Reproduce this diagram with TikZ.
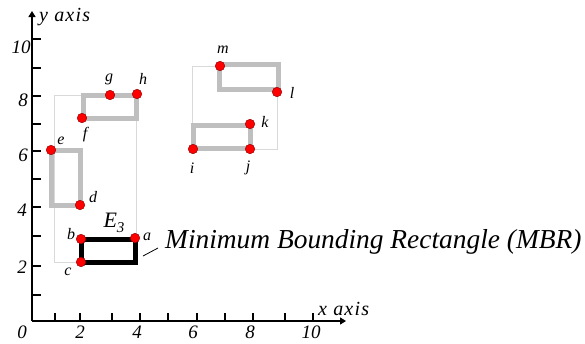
\documentclass[tikz,border=0pt]{standalone}
\usepackage{fontspec}
\setmainfont{Liberation Serif}
\usetikzlibrary{arrows.meta}
\begin{document}
\begin{tikzpicture}[x=1pt,y=-1pt,
 pt/.style={circle,fill=red,draw=red!60!black,line width=0.5pt,inner sep=0pt,minimum size=9.5pt},
 lbl/.style={font=\fontsize{16}{16}\selectfont\itshape,inner sep=0pt},
 ticklbl/.style={font=\fontsize{19}{19}\selectfont\itshape,inner sep=0pt},
 axlbl/.style={font=\fontsize{20}{20}\selectfont\itshape\addfontfeatures{LetterSpace=6},inner sep=0pt},
 gshape/.style={draw=black!25, line width=5pt, line join=miter},
 bshape/.style={draw=black, line width=5pt, line join=miter},
 mbr/.style={draw=black!15, line width=0.8pt},
 axis/.style={line width=1.3pt, -{Triangle[length=6pt,width=7pt]}},
 tick/.style={line width=1.2pt}
]
\useasboundingbox (0,0) rectangle (585,343);
% axes
\coordinate (O) at (32,321);
\coordinate (ytop) at (32,11);
\coordinate (xend) at (346,321);
\draw[axis] (O) -- (ytop);
\draw[axis] (O) -- (xend);
\foreach \x in {55,80,112,140,168,197,225,253,285,313} \draw[tick] (\x,321) -- (\x,313);
\foreach \y in {39,68,96,124,151,179,207,236,266,295} \draw[tick] (32,\y) -- (41,\y);
\node[axlbl,anchor=west] (ylab) at (39,17) {y axis};
\node[axlbl,anchor=west] (xlab) at (318,309) {x axis};
% tick labels
\node[ticklbl] (x0) at (22,332) {0};
\node[ticklbl] (x2) at (80,332) {2};
\node[ticklbl] (x4) at (137,332) {4};
\node[ticklbl] (x6) at (193,332) {6};
\node[ticklbl] (x8) at (250,332) {8};
\node[ticklbl] (x10) at (311,332) {10};
\node[ticklbl] (y10) at (21,47) {10};
\node[ticklbl] (y8) at (23,100) {8};
\node[ticklbl] (y6) at (23,155) {6};
\node[ticklbl] (y4) at (22,210) {4};
\node[ticklbl] (y2) at (22,267) {2};
% thin bounding rectangles
\draw[mbr] (54,95) rectangle (136,262);
\draw[mbr] (192,66) rectangle (277,149);
% gray shapes
\draw[gshape] (51,150) rectangle (80,205);
\draw[gshape] (83,95) rectangle (136,118);
\draw[gshape] (193.5,125.5) rectangle (250.5,148.5);
\draw[gshape] (219.5,64.5) rectangle (278,89.5);
% black MBR
\draw[bshape] (81,239.5) rectangle (135,262.5);
% points
\node[pt] (a) at (135,238) {};
\node[pt] (b) at (81,239) {};
\node[pt] (c) at (81,262) {};
\node[pt] (d) at (80,205) {};
\node[pt] (e) at (51,150) {};
\node[pt] (f) at (82,118) {};
\node[pt] (g) at (110,95) {};
\node[pt] (h) at (137,94) {};
\node[pt] (i) at (193,149) {};
\node[pt] (j) at (250,149) {};
\node[pt] (k) at (250,124) {};
\node[pt] (l) at (277,92) {};
\node[pt] (m) at (220,66) {};
% point labels
\node[lbl] (la) at (147,237) {a};
\node[lbl] (lb) at (71,234) {b};
\node[lbl] (lc) at (68,272) {c};
\node[lbl] (ld) at (93,197) {d};
\node[lbl] (le) at (61,141) {e};
\node[lbl] (lf) at (85,135) {f};
\node[lbl] (lg) at (109,79) {g};
\node[lbl] (lh) at (143,79) {h};
\node[lbl] (li) at (192,168) {i};
\node[lbl] (lj) at (248,168) {j};
\node[lbl] (lk) at (265,122) {k};
\node[lbl] (ll) at (292,93) {l};
\node[lbl] (lm) at (223,50) {m};
% E3
\node[inner sep=0pt,font=\fontsize{22}{22}\selectfont\itshape] (E3) at (114,223) {E\raisebox{-5pt}{\fontsize{15}{15}\selectfont 3}};
% MBR label
\node[inner sep=0pt,anchor=west,font=\fontsize{27.4}{27.4}\selectfont\itshape] (mbrlab) at (165,242) {Minimum Bounding Rectangle (MBR)};
\coordinate (ld1) at (143,256);
\coordinate (ld2) at (158,248);
\draw[line width=0.8pt] (ld1) -- (ld2);
\end{tikzpicture}
\end{document}
